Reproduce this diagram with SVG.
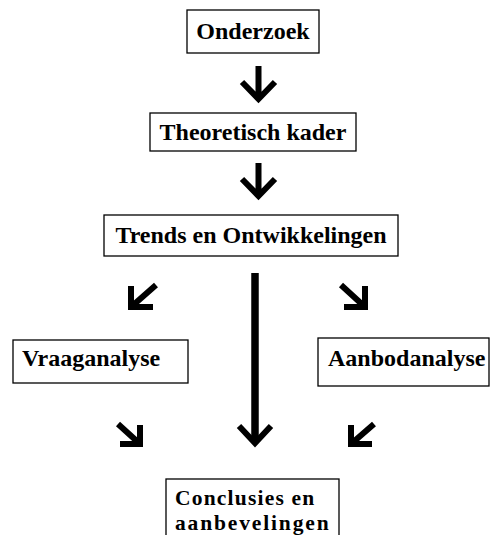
<svg xmlns="http://www.w3.org/2000/svg" width="490" height="535" viewBox="0 0 490 535">
<style>
.box{fill:#fff;stroke:#000;stroke-width:1.3}
.t{font-family:"Liberation Serif","Times New Roman",serif;font-weight:bold;font-size:24px;fill:#000}
.a{fill:none;stroke:#000;stroke-width:6;stroke-linejoin:miter}
</style>
<rect width="490" height="535" fill="#fff"/>
<g id="connectors">
<path class="a" d="M258.5,66 V98 M242,82 L258.5,99 L275,82"/>
<path class="a" d="M258.5,163 V195 M242,179 L258.5,196 L275,179"/>
<path class="a" d="M156,285 L131,307 M131,286 V307 H153"/>
<path class="a" d="M341,285 L365,307 M365,286 V307 H344"/>
<path class="a" d="M255,273 V442" style="stroke-width:7.5"/>
<path class="a" d="M239,426 L255,443 L271,426"/>
<path class="a" d="M118,424 L140,444 M140,425 V444 H120"/>
<path class="a" d="M374,424 L351,444 M351,425 V444 H372"/>
</g>
<g id="onderzoek"><rect class="box" x="187" y="10" width="132" height="43"/><text class="t" x="253" y="39" text-anchor="middle">Onderzoek</text></g>
<g id="theoretisch"><rect class="box" x="150" y="113" width="206" height="38"/><text class="t" x="253" y="140" text-anchor="middle">Theoretisch kader</text></g>
<g id="trends"><rect class="box" x="104" y="215" width="294" height="41"/><text class="t" x="251" y="243" text-anchor="middle">Trends en Ontwikkelingen</text></g>
<g id="vraag"><rect class="box" x="13" y="340" width="175" height="43"/><text class="t" x="22" y="366">Vraaganalyse</text></g>
<g id="aanbod"><rect class="box" x="318" y="338" width="171" height="48"/><text class="t" x="328" y="366">Aanbodanalyse</text></g>
<g id="conclusies"><rect class="box" x="166" y="479" width="173" height="70"/><text class="t" x="175" y="505" style="font-size:21.5px" letter-spacing="1.2">Conclusies en</text><text class="t" x="175" y="530" style="font-size:21.5px" letter-spacing="1.85">aanbevelingen</text></g>
</svg>
